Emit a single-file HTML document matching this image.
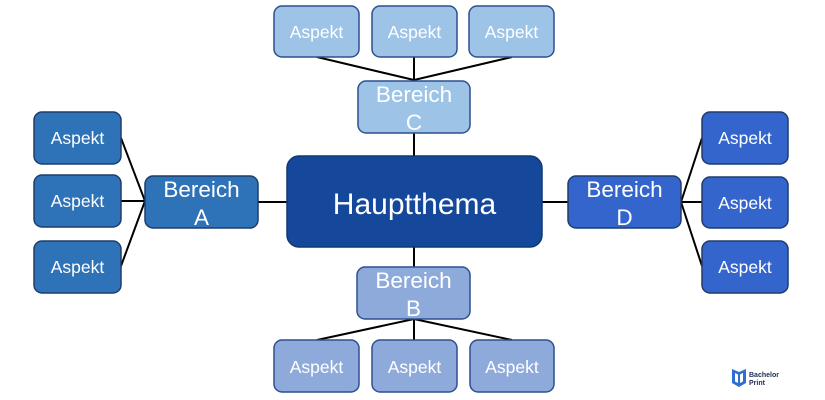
<!DOCTYPE html>
<html><head><meta charset="utf-8"><style>
html,body{margin:0;padding:0;background:#fff;}
svg{display:block;}
text{font-family:"Liberation Sans",sans-serif;fill:#fff;}
</style></head><body>
<svg width="825" height="400" viewBox="0 0 825 400" xmlns="http://www.w3.org/2000/svg">
<g stroke="#000" stroke-width="2" fill="none">
<line x1="121" y1="138" x2="145" y2="201"/>
<line x1="121" y1="201" x2="145" y2="201"/>
<line x1="121" y1="266" x2="145" y2="201"/>
<line x1="258" y1="202" x2="287" y2="202"/>
<line x1="542" y1="202" x2="568" y2="202"/>
<line x1="681" y1="202" x2="702" y2="138"/>
<line x1="681" y1="202" x2="702" y2="202"/>
<line x1="681" y1="202" x2="702" y2="266"/>
<line x1="317" y1="57" x2="414" y2="80"/>
<line x1="414" y1="57" x2="414" y2="80"/>
<line x1="512" y1="57" x2="414" y2="80"/>
<line x1="414" y1="133" x2="414" y2="156"/>
<line x1="414" y1="247" x2="414" y2="267"/>
<line x1="414" y1="319" x2="317" y2="340"/>
<line x1="414" y1="319" x2="414" y2="340"/>
<line x1="414" y1="319" x2="512" y2="340"/>
</g>
<!-- Hauptthema -->
<rect x="287" y="156" width="255" height="91" rx="12" fill="#15489b" stroke="#0f3878" stroke-width="1.5"/>
<text x="414.5" y="214" font-size="30" text-anchor="middle">Hauptthema</text>

<!-- Left -->
<g fill="#2e72b8" stroke="#1f3d6b" stroke-width="1.5">
<rect x="34" y="112" width="87" height="52" rx="8"/>
<rect x="34" y="175" width="87" height="52" rx="8"/>
<rect x="34" y="241" width="87" height="52" rx="8"/>
<rect x="145" y="176" width="113" height="52" rx="8"/>
</g>
<g font-size="17.5" text-anchor="middle">
<text x="77.5" y="144">Aspekt</text>
<text x="77.5" y="207">Aspekt</text>
<text x="77.5" y="273">Aspekt</text>
</g>
<text x="201.5" y="197" font-size="22.5" text-anchor="middle">Bereich</text>
<text x="201.5" y="225" font-size="22.5" text-anchor="middle">A</text>

<!-- Right -->
<g fill="#3465cc" stroke="#1f3d6b" stroke-width="1.5">
<rect x="702" y="112" width="86" height="52" rx="8"/>
<rect x="702" y="177" width="86" height="51" rx="8"/>
<rect x="702" y="241" width="86" height="52" rx="8"/>
<rect x="568" y="176" width="113" height="52" rx="8"/>
</g>
<g font-size="17.5" text-anchor="middle">
<text x="745" y="144">Aspekt</text>
<text x="745" y="209">Aspekt</text>
<text x="745" y="273">Aspekt</text>
</g>
<text x="624.5" y="197" font-size="22.5" text-anchor="middle">Bereich</text>
<text x="624.5" y="225" font-size="22.5" text-anchor="middle">D</text>

<!-- Top -->
<g fill="#9dc3e6" stroke="#2f4f8f" stroke-width="1.5">
<rect x="274" y="6" width="85" height="51" rx="8"/>
<rect x="372" y="6" width="85" height="51" rx="8"/>
<rect x="469" y="6" width="85" height="51" rx="8"/>
<rect x="358" y="81" width="112" height="52" rx="8"/>
</g>
<g font-size="17.5" text-anchor="middle">
<text x="316.5" y="38">Aspekt</text>
<text x="414.5" y="38">Aspekt</text>
<text x="511.5" y="38">Aspekt</text>
</g>
<text x="414" y="102" font-size="22.5" text-anchor="middle">Bereich</text>
<text x="414" y="130" font-size="22.5" text-anchor="middle">C</text>

<!-- Bottom -->
<g fill="#8eaadb" stroke="#2f4f8f" stroke-width="1.5">
<rect x="274" y="340" width="85" height="52" rx="8"/>
<rect x="372" y="340" width="85" height="52" rx="8"/>
<rect x="470" y="340" width="84" height="52" rx="8"/>
<rect x="357" y="267" width="113" height="52" rx="8"/>
</g>
<g font-size="17.5" text-anchor="middle">
<text x="316.5" y="373">Aspekt</text>
<text x="414.5" y="373">Aspekt</text>
<text x="512" y="373">Aspekt</text>
</g>
<text x="413.5" y="288" font-size="22.5" text-anchor="middle">Bereich</text>
<text x="413.5" y="316" font-size="22.5" text-anchor="middle">B</text>

<!-- Logo -->
<path d="M732 369 L739 372 L746 369 L746 383 L739 387 L732 383 Z" fill="#2f6fcf"/>
<path d="M735 373 L738 374.5 L738 383 L735 381.5 Z M740 374.5 L743 373 L743 381.5 L740 383 Z" fill="#fff"/>
<text x="749" y="377" font-size="7" font-weight="bold" style="fill:#1d2b4f">Bachelor</text>
<text x="749" y="385" font-size="7" font-weight="bold" style="fill:#1d2b4f">Print</text>
</svg>
</body></html>
